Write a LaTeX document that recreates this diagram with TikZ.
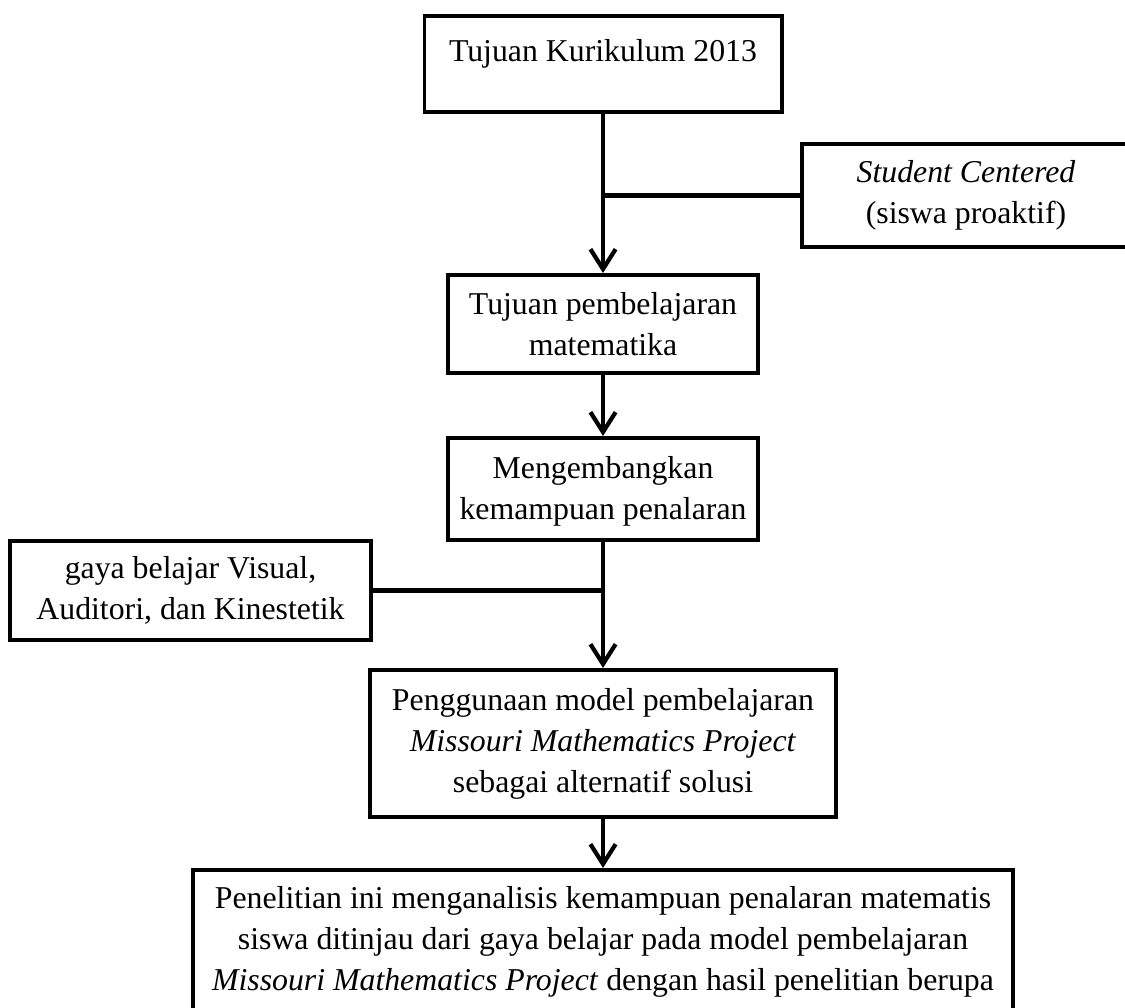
\documentclass[tikz,border=0pt]{standalone}
\usepackage{fontspec}
\setmainfont{Liberation Serif}
\usetikzlibrary{arrows.meta}
\begin{document}
\begin{tikzpicture}[x=0.3774pt,y=-0.3774pt,
  box/.style={draw, line width=1.5pt, align=center, inner sep=0pt,
    font=\fontsize{12pt}{15.5pt}\selectfont},
  txt/.style={align=center, inner sep=0pt, font=\fontsize{12pt}{15.5pt}\selectfont},
  conn/.style={line width=1.6pt},
  arr/.style={conn, -{Straight Barb[length=7.5pt,width=9.5pt]}}]
\clip (0,0) rectangle (1125,1008);
\node[box, minimum width={357*0.3774pt}, minimum height={96*0.3774pt},
  text height=8pt, text depth=9.8pt] (b1) at (603,64)
  {Tujuan Kurikulum 2013};
\node[box, minimum width={328*0.3774pt}, minimum height={103*0.3774pt}] (sc) at (966,195.5)
  {\textit{Student Centered}\\(siswa proaktif)};
\node[box, minimum width={310*0.3774pt}, minimum height={98*0.3774pt}] (b2) at (603,324)
  {Tujuan pembelajaran\\matematika};
\node[box, minimum width={310*0.3774pt}, minimum height={102*0.3774pt}] (b3) at (603,489)
  {\rule{0pt}{10pt}Mengembangkan\\kemampuan penalaran};
\node[box, minimum width={361*0.3774pt}, minimum height={99*0.3774pt}] (lb) at (190.5,590.5)
  {gaya belajar Visual,\\Auditori, dan Kinestetik};
\node[box, minimum width={466*0.3774pt}, minimum height={147*0.3774pt}] (b4) at (603,743.5)
  {Penggunaan model pembelajaran\\\textit{Missouri Mathematics Project}\\sebagai alternatif solusi};
\node[box, minimum width={820*0.3774pt}, minimum height={200*0.3774pt}, anchor=north] (b5) at (603,868) {};
\node[txt, anchor=north] (b5t) at (603,886)
  {Penelitian ini menganalisis kemampuan penalaran matematis\\siswa ditinjau dari gaya belajar pada model pembelajaran\\\textit{Missouri Mathematics Project} dengan hasil penelitian berupa};
\draw[arr] (b1) -- (b2);
\draw[conn] (sc.west) -- (sc.west -| b1.south);
\draw[arr] (b2) -- (b3);
\draw[arr] (b3) -- (b4);
\draw[conn] (lb.east) -- (lb.east -| b3.south);
\draw[arr] (b4) -- (b5);
\end{tikzpicture}
\end{document}
